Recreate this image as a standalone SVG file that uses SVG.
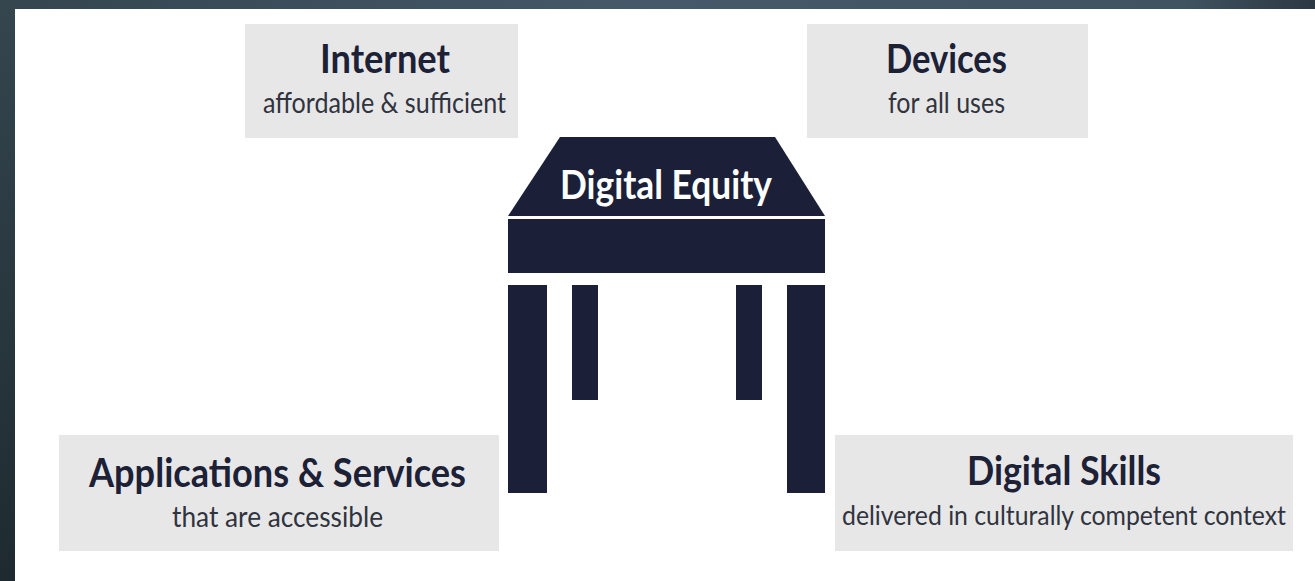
<svg xmlns="http://www.w3.org/2000/svg" width="1315" height="581" viewBox="0 0 1315 581">
  <style>
    .box { fill: #e8e7e8; }
    .dark { fill: #1b2038; }
    .title { font-family: Lato, "Liberation Sans", sans-serif; font-weight: 700; font-size: 41px; fill: #1c2136; text-anchor: middle; }
    .sub { font-family: Lato, "Liberation Sans", sans-serif; font-weight: 400; font-size: 29px; fill: #30343e; text-anchor: middle; }
  </style>
  <defs>
    <linearGradient id="topGrad" x1="0" y1="0" x2="1" y2="0">
      <stop offset="0" stop-color="#34454e"/>
      <stop offset="0.5" stop-color="#45596a"/>
      <stop offset="0.9" stop-color="#3f5360"/>
      <stop offset="1" stop-color="#2c3842"/>
    </linearGradient>
    <linearGradient id="leftGrad" x1="0" y1="0" x2="0" y2="1">
      <stop offset="0" stop-color="#35464f"/>
      <stop offset="1" stop-color="#1e2a30"/>
    </linearGradient>
  </defs>

  <rect x="0" y="0" width="1315" height="581" fill="#ffffff"/>
  <g id="frame">
    <rect x="0" y="0" width="1315" height="9" fill="url(#topGrad)"/>
    <rect x="0" y="0" width="15" height="581" fill="url(#leftGrad)"/>
  </g>

  <g id="internet">
    <rect class="box" x="245" y="24" width="273" height="114"/>
    <text class="title" x="385" y="73" textLength="130" lengthAdjust="spacingAndGlyphs">Internet</text>
    <text class="sub" x="384.5" y="113" textLength="243" lengthAdjust="spacingAndGlyphs">affordable &amp; sufficient</text>
  </g>

  <g id="devices">
    <rect class="box" x="807" y="24" width="281" height="114"/>
    <text class="title" x="946.5" y="73" textLength="121" lengthAdjust="spacingAndGlyphs">Devices</text>
    <text class="sub" x="946.5" y="113" textLength="117" lengthAdjust="spacingAndGlyphs">for all uses</text>
  </g>

  <g id="digital-equity">
    <polygon class="dark" points="560,137 775,137 825,216 508,216"/>
    <text class="title" x="666" y="199" style="fill:#ffffff" textLength="212" lengthAdjust="spacingAndGlyphs">Digital Equity</text>
    <rect class="dark" x="508" y="219" width="317" height="54"/>
    <rect class="dark" x="508" y="285" width="39" height="208"/>
    <rect class="dark" x="572" y="285" width="26" height="115"/>
    <rect class="dark" x="736" y="285" width="26" height="115"/>
    <rect class="dark" x="787" y="285" width="38" height="208"/>
  </g>

  <g id="applications">
    <rect class="box" x="59" y="435" width="440" height="116"/>
    <text class="title" x="277.5" y="487" textLength="377" lengthAdjust="spacingAndGlyphs">Applications &amp; Services</text>
    <text class="sub" x="277.5" y="527" textLength="211" lengthAdjust="spacingAndGlyphs">that are accessible</text>
  </g>

  <g id="digital-skills">
    <rect class="box" x="835" y="435" width="458" height="116"/>
    <text class="title" x="1064" y="485" textLength="194" lengthAdjust="spacingAndGlyphs">Digital Skills</text>
    <text class="sub" x="1064" y="525" style="font-size:26px" textLength="444" lengthAdjust="spacingAndGlyphs">delivered in culturally competent context</text>
  </g>
</svg>
